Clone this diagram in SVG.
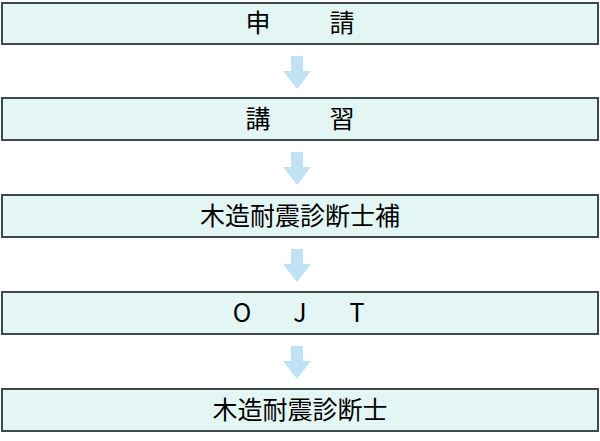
<svg xmlns="http://www.w3.org/2000/svg" width="600" height="441" viewBox="0 0 600 441">
<style>
.b{fill:#e4f6f4;stroke:#3c4a4c;stroke-width:2}
.t{font-family:"Noto Sans CJK JP","Liberation Sans",sans-serif;font-size:25px;fill:#000;text-anchor:middle}
.a{fill:#bfe2f5}
</style>
<rect width="600" height="441" fill="#fff"/>
<g id="connectors">
<path class="a" d="M291 56h12v15h8l-14 18l-14-18h8z"/>
<path class="a" d="M291 152h12v15h8l-14 18l-14-18h8z"/>
<path class="a" d="M291 249h12v15h8l-14 18l-14-18h8z"/>
<path class="a" d="M291 346h12v15h8l-14 18l-14-18h8z"/>
</g>
<g id="n1"><rect class="b" x="2" y="3" width="596" height="41"/><text class="t" x="258" y="32">申</text><text class="t" x="342" y="32">請</text></g>
<g id="n2"><rect class="b" x="2" y="98" width="596" height="42"/><text class="t" x="258" y="128">講</text><text class="t" x="342" y="128">習</text></g>
<g id="n3"><rect class="b" x="2" y="195" width="596" height="42"/><text class="t" x="300" y="225">木造耐震診断士補</text></g>
<g id="n4"><rect class="b" x="2" y="292" width="596" height="42"/><text class="t" x="242" y="322">O</text><text class="t" x="300" y="322">J</text><text class="t" x="357" y="322">T</text></g>
<g id="n5"><rect class="b" x="2" y="389" width="596" height="42"/><text class="t" x="300" y="419">木造耐震診断士</text></g>
</svg>
